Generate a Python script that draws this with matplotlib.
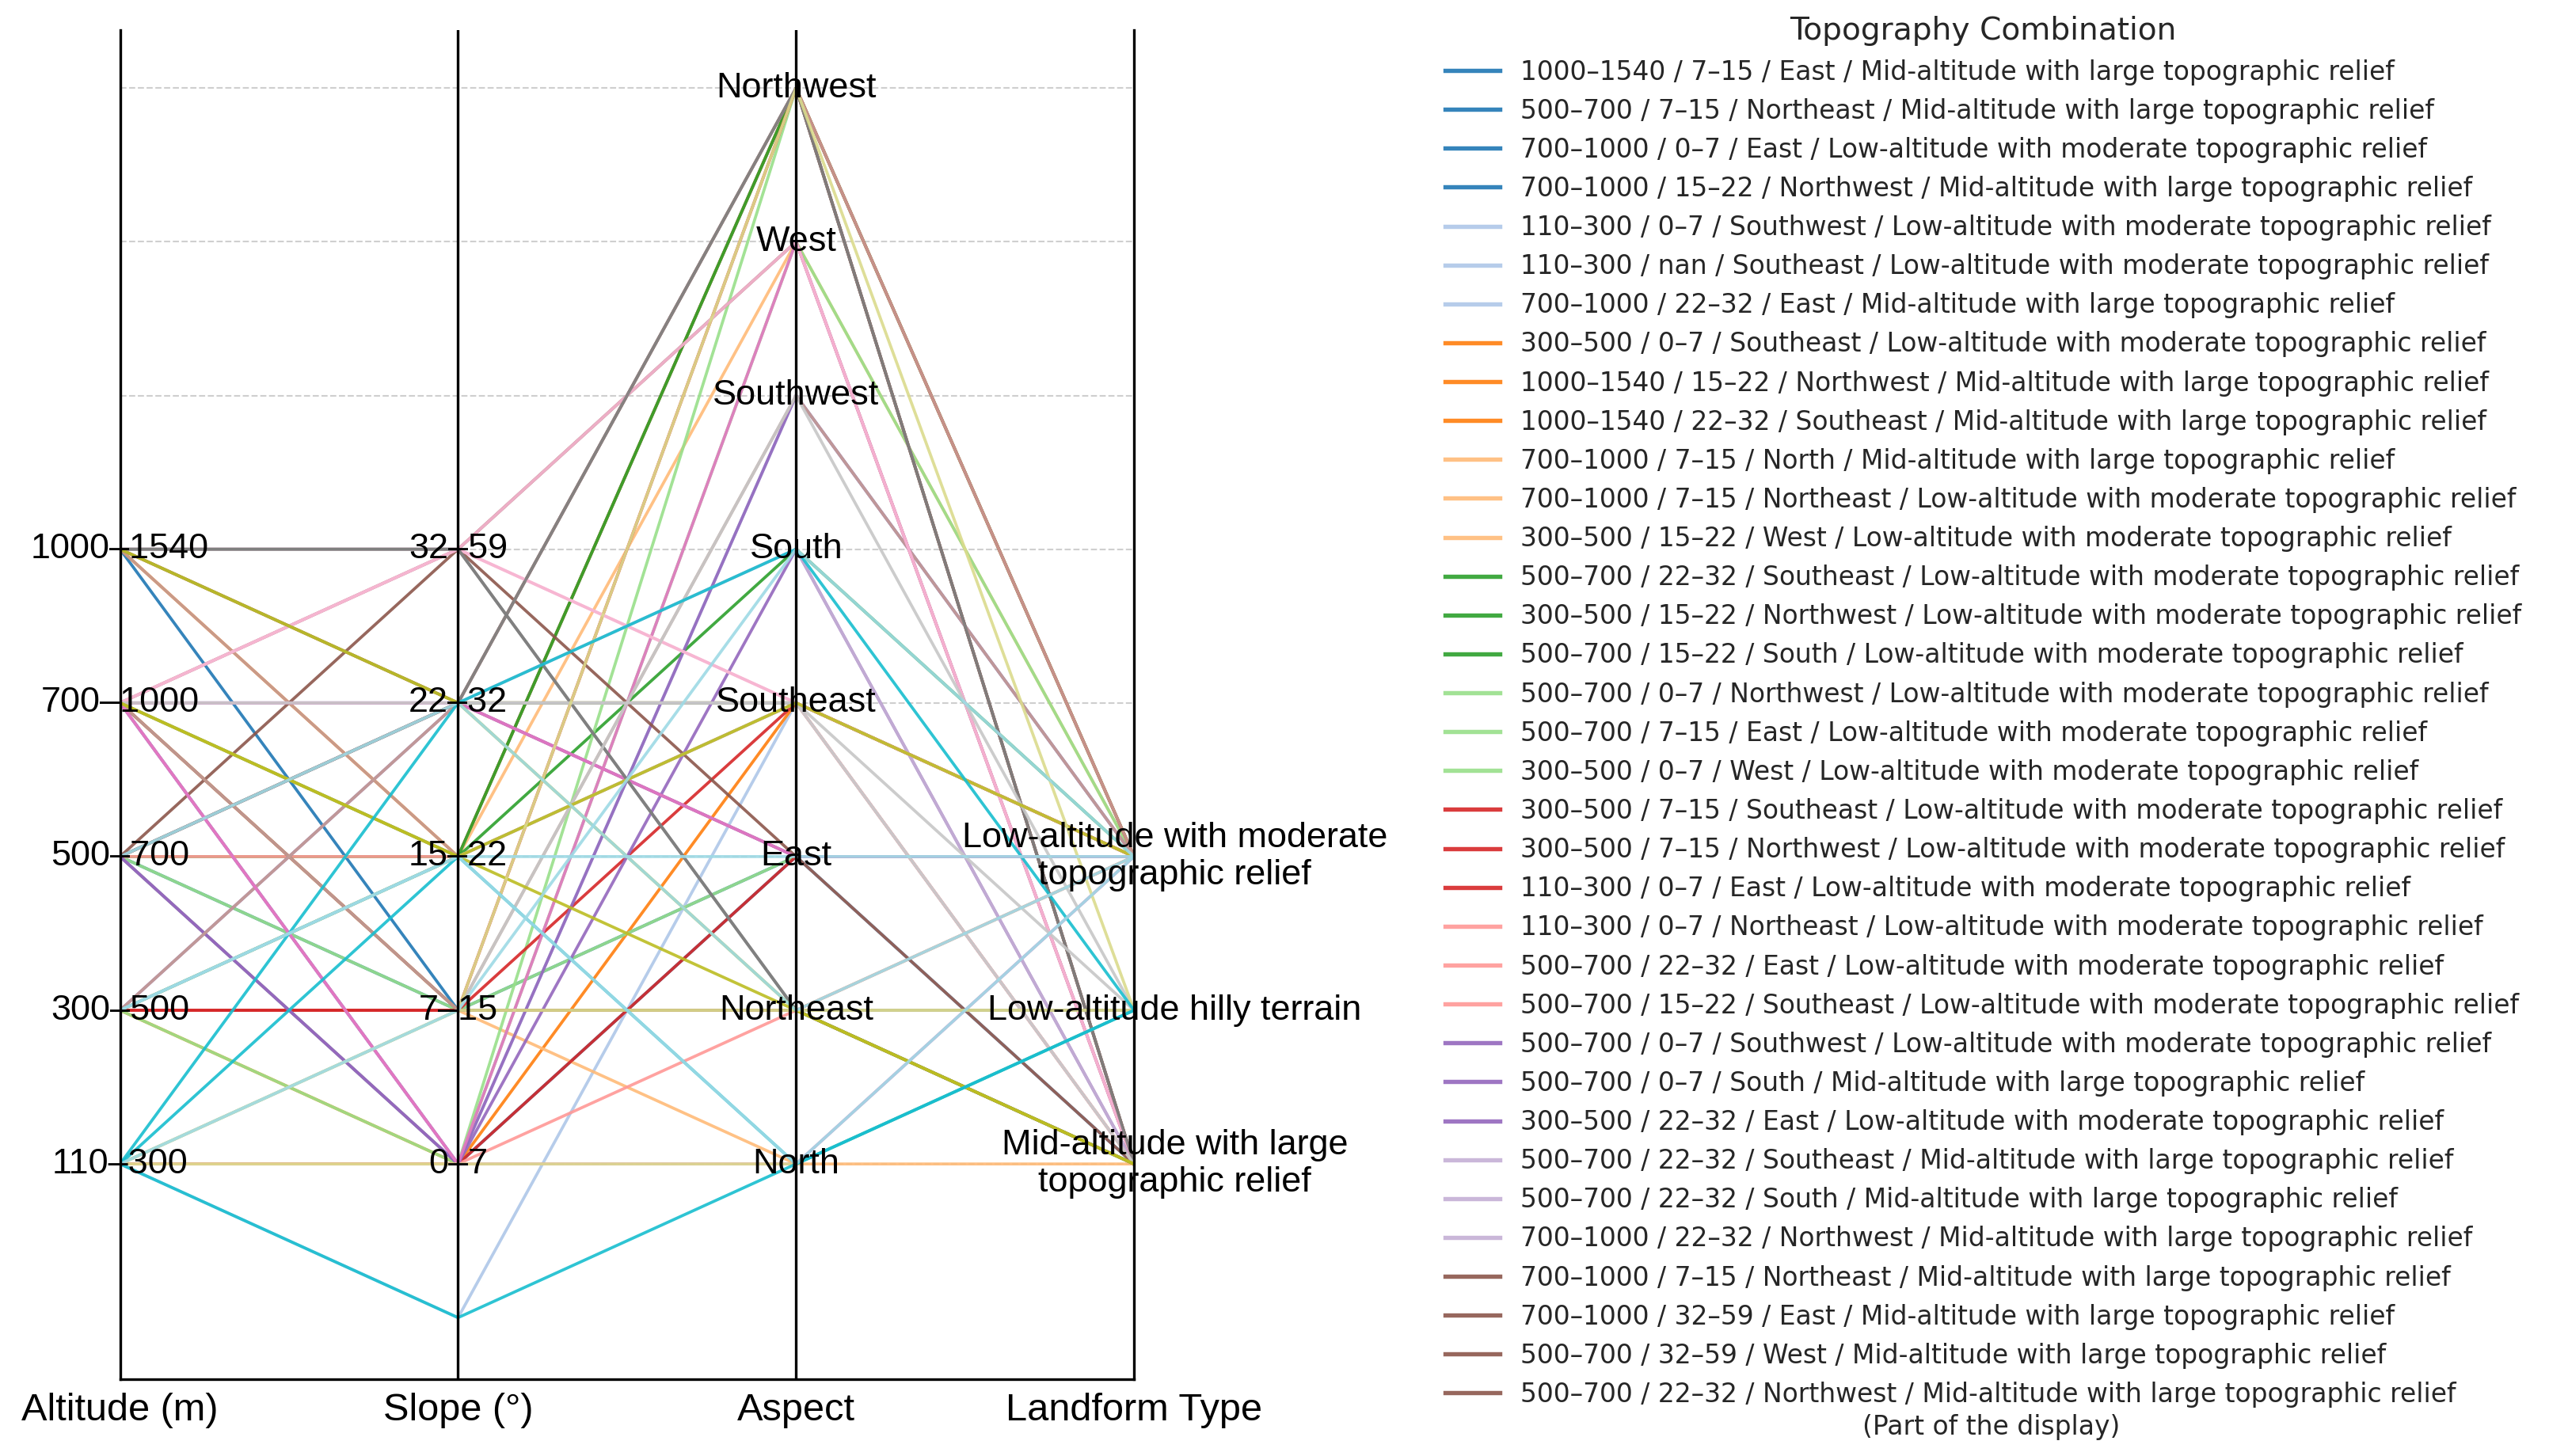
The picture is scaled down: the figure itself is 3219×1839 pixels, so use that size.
import numpy as np
import matplotlib.pyplot as plt

# category orders (bottom to top on each axis)
alt_levels = ['110–300', '300–500', '500–700', '700–1000', '1000–1540']
slope_levels = ['0–7', '7–15', '15–22', '22–32', '32–59']
aspect_levels = ['North', 'Northeast', 'East', 'Southeast', 'South', 'Southwest', 'West', 'Northwest']
MID = 'Mid-altitude with large topographic relief'
HILLY = 'Low-altitude hilly terrain'
LOW = 'Low-altitude with moderate topographic relief'
landform_levels = [MID, HILLY, LOW]
landform_ticks = ['Mid-altitude with large\ntopographic relief', 'Low-altitude hilly terrain',
                  'Low-altitude with moderate\ntopographic relief']

# one entry per combination (the first 35 are listed in the legend)
altitude = ['1000–1540', '500–700', '700–1000', '700–1000', '110–300', '110–300', '700–1000',
            '300–500', '1000–1540', '1000–1540', '700–1000', '700–1000', '300–500', '500–700',
            '300–500', '500–700', '500–700', '500–700', '300–500', '300–500', '300–500',
            '110–300', '110–300', '500–700', '500–700', '500–700', '500–700', '300–500',
            '500–700', '500–700', '700–1000', '700–1000', '700–1000', '500–700', '500–700',
            '700–1000', '300–500', '1000–1540', '700–1000', '700–1000', '700–1000',
            '700–1000', '700–1000', '1000–1540', '1000–1540', '1000–1540', '1000–1540',
            '700–1000', '110–300', '700–1000', '1000–1540', '700–1000', '700–1000',
            '110–300', '110–300', '110–300', '110–300', '110–300', '110–300',
            '500–700', '300–500', '110–300', '300–500']
slope = ['7–15', '7–15', '0–7', '15–22', '0–7', 'nan', '22–32',
         '0–7', '15–22', '22–32', '7–15', '7–15', '15–22', '22–32',
         '15–22', '15–22', '0–7', '7–15', '0–7', '7–15', '7–15',
         '0–7', '0–7', '22–32', '15–22', '0–7', '0–7', '22–32',
         '22–32', '22–32', '22–32', '7–15', '32–59', '32–59', '22–32',
         '7–15', '22–32', '15–22', '0–7', '22–32', '0–7',
         '32–59', '32–59', '32–59', '32–59', '22–32', '32–59',
         '22–32', '7–15', '15–22', '22–32', '15–22', '15–22',
         '0–7', '7–15', '7–15', '22–32', '15–22', 'nan',
         '22–32', '15–22', '7–15', '15–22']
aspect = ['East', 'Northeast', 'East', 'Northwest', 'Southwest', 'Southeast', 'East',
          'Southeast', 'Northwest', 'Southeast', 'North', 'Northeast', 'West', 'Southeast',
          'Northwest', 'South', 'Northwest', 'East', 'West', 'Southeast', 'Northwest',
          'East', 'Northeast', 'East', 'Southeast', 'Southwest', 'South', 'East',
          'Southeast', 'South', 'Northwest', 'Northeast', 'East', 'West', 'Northwest',
          'Southwest', 'Northwest', 'Southeast', 'West', 'East', 'North',
          'West', 'Southeast', 'Southeast', 'Northeast', 'Northwest', 'Northeast',
          'Southeast', 'Southwest', 'Southeast', 'Northeast', 'Southeast', 'Northeast',
          'North', 'Northwest', 'Northeast', 'South', 'North', 'North',
          'Northeast', 'East', 'South', 'North']
landform = [MID, MID, LOW, MID, LOW, LOW, MID,
            LOW, MID, MID, MID, LOW, LOW, LOW,
            LOW, LOW, LOW, LOW, LOW, LOW, LOW,
            LOW, LOW, LOW, LOW, LOW, MID, LOW,
            MID, MID, MID, MID, MID, MID, MID,
            LOW, LOW, LOW, MID, LOW, LOW,
            MID, LOW, MID, MID, MID, HILLY,
            HILLY, HILLY, MID, MID, LOW, MID,
            HILLY, HILLY, HILLY, HILLY, HILLY, HILLY,
            LOW, LOW, LOW, LOW]

axis_names = ['Altitude (m)', 'Slope (°)', 'Aspect', 'Landform Type']
n_legend = 35

# categorical codes, missing values -> -1
def code(levels, v):
    return levels.index(v) if v in levels else -1

rows = []
for a, s, asp, l in zip(altitude, slope, aspect, landform):
    rows.append([code(alt_levels, a), code(slope_levels, s),
                 code(aspect_levels, asp), code(landform_levels, l)])
rows = np.array(rows, dtype=float)

n = len(rows)
colors = plt.cm.tab20(np.linspace(0, 1, n))

fig = plt.figure(figsize=(10.73, 6.13), dpi=300)
ax = fig.add_axes([0.0471, 0.0528, 0.3978, 0.9268])

xs = np.arange(4)
handles = []
for i in range(n):
    lab = ' / '.join([altitude[i], slope[i], aspect[i], landform[i]])
    h, = ax.plot(xs, rows[i], color=colors[i], lw=0.9, alpha=0.9, label=lab)
    handles.append(h)

for x in [1, 2]:
    ax.axvline(x, color='black', lw=0.8)

ax.set_xlim(0, 3)
ax.set_ylim(-1.40, 7.38)
ax.set_yticks(range(8))
ax.set_yticklabels([])
ax.yaxis.grid(True, ls='--', color='#cfcfcf', lw=0.5)
ax.set_axisbelow(True)
ax.tick_params(axis='y', length=0)
ax.set_xticks(xs)
ax.set_xticklabels(axis_names, fontsize=11.7, family='Liberation Sans')
ax.tick_params(axis='x', length=0, pad=4)
ax.spines['top'].set_visible(False)
for sp in ['left', 'right', 'bottom']:
    ax.spines[sp].set_color('black')
    ax.spines[sp].set_linewidth(0.8)

# level labels on each axis
for k, lv in enumerate(alt_levels):
    ax.text(0, k, lv, ha='center', va='center', fontsize=10.8, family='Liberation Sans')
for k, lv in enumerate(slope_levels):
    ax.text(1, k, lv, ha='center', va='center', fontsize=10.8, family='Liberation Sans')
for k, lv in enumerate(aspect_levels):
    ax.text(2, k, lv, ha='center', va='center', fontsize=10.8, family='Liberation Sans')
for k, lv in enumerate(landform_ticks):
    ax.text(3.12, k, lv, ha='center', va='center', fontsize=10.8, family='Liberation Sans',
            clip_on=False)

leg = fig.legend(handles[:n_legend], [h.get_label() for h in handles[:n_legend]],
                 loc='upper left', bbox_to_anchor=(0.5576, 1.005), frameon=False,
                 fontsize=7.9, title='Topography Combination', title_fontsize=9.4,
                 labelspacing=0.49, handlelength=2.1, handletextpad=0.8)
for t in leg.get_texts():
    t.set_color('#262626')
for lh in leg.get_lines():
    lh.set_linewidth(1.3)
leg.get_title().set_color('#262626')

fig.text(0.7813, 0.0201, '(Part of the display)', ha='center', va='center',
         fontsize=7.9, color='#262626')

fig.savefig('out.png', dpi=300)
